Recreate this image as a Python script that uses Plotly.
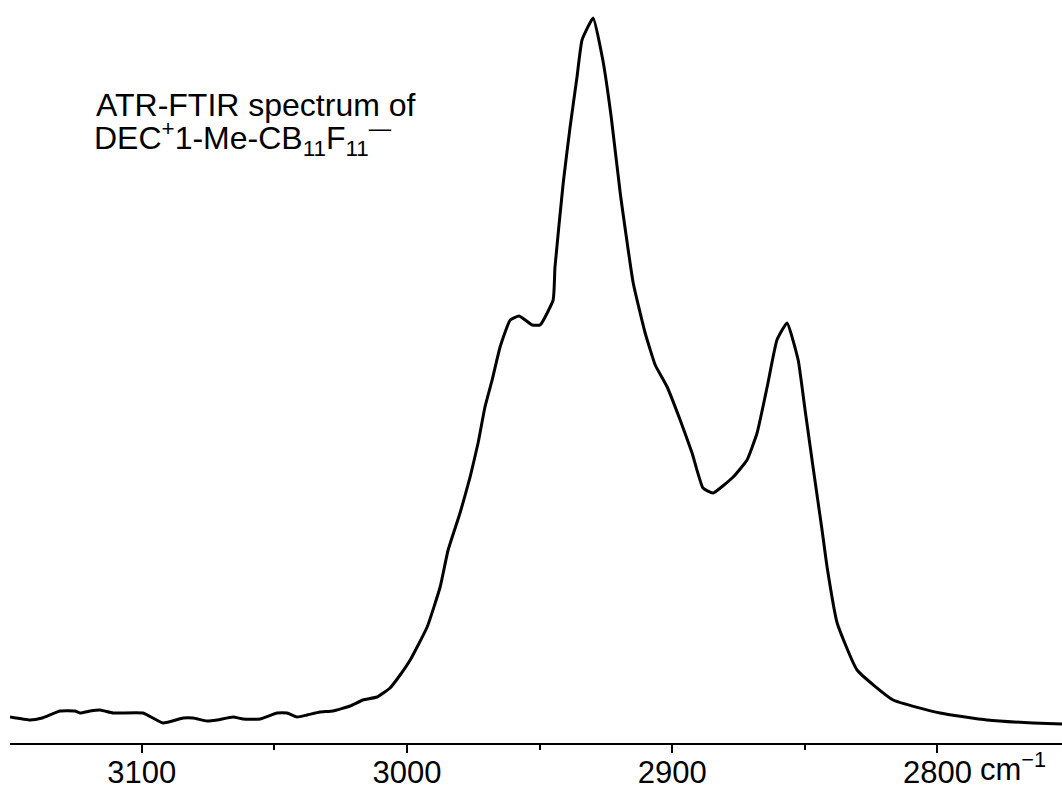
import plotly.graph_objects as go

# Wavenumber (cm^-1) and absorbance (arbitrary units)
wavenumber = [
    3149.7, 3142.1, 3137.6, 3130.8, 3125.2, 3123.3, 3119.5, 3115.7, 3110.8, 3099.5,
    3092.0, 3084.4, 3080.7, 3075.4, 3071.6, 3065.6, 3061.8, 3055.4, 3049.0, 3045.2,
    3041.4, 3037.7, 3032.8, 3027.9, 3021.5, 3016.6, 3011.3, 3006.4, 3002.6, 2998.8,
    2992.4, 2987.5, 2984.5, 2980.0, 2976.2, 2973.2, 2970.6, 2967.9, 2964.9, 2961.1,
    2957.7, 2952.8, 2949.8, 2944.9, 2944.2, 2941.1, 2938.5, 2935.9, 2934.0, 2929.8,
    2926.1, 2923.0, 2919.6, 2914.7, 2910.2, 2906.4, 2901.9, 2897.0, 2892.5, 2888.4,
    2884.6, 2877.0, 2871.8, 2868.0, 2864.2, 2860.5, 2856.7, 2852.5, 2849.9, 2846.9,
    2843.5, 2841.6, 2837.8, 2830.3, 2816.7, 2799.0, 2781.3, 2763.9, 2753.0,
]
absorbance = [
    0.026, 0.023, 0.025, 0.032, 0.032, 0.030, 0.032, 0.033, 0.030, 0.030,
    0.020, 0.025, 0.025, 0.022, 0.023, 0.026, 0.024, 0.024, 0.030, 0.030,
    0.026, 0.028, 0.031, 0.032, 0.037, 0.043, 0.046, 0.055, 0.068, 0.083,
    0.116, 0.156, 0.193, 0.230, 0.266, 0.300, 0.336, 0.363, 0.396, 0.423,
    0.427, 0.418, 0.418, 0.443, 0.476, 0.560, 0.616, 0.666, 0.703, 0.725,
    0.682, 0.626, 0.550, 0.460, 0.410, 0.378, 0.356, 0.323, 0.290, 0.255,
    0.250, 0.266, 0.283, 0.310, 0.356, 0.403, 0.420, 0.383, 0.333, 0.276,
    0.213, 0.176, 0.120, 0.073, 0.043, 0.030, 0.023, 0.020, 0.019,
]

tick_values = [3100, 3000, 2900, 2800]
tick_labels = ["3100", "3000", "2900", "2800"]
minor_tick_values = [3050, 2950, 2850]
title_line1 = "ATR-FTIR spectrum of"
title_line2 = "DEC<sup>+</sup>1-Me-CB<sub>11</sub>F<sub>11</sub><sup>\u2014</sup>"
unit_label = "cm<sup>\u22121</sup>"

FONT = "Arial, 'Liberation Sans', sans-serif"
W, H = 1062, 786
ML, MR, MT, MB = 10, 0, 10, 786 - 743
PW, PH = W - ML - MR, H - MT - MB
X_LEFT = 3149.7
X_RIGHT = X_LEFT - PW / 2.652


def px_x(x):
    return (x - ML) / PW


def px_y(y):
    return (H - MB - y) / PH


fig = go.Figure()
fig.add_trace(go.Scatter(
    x=wavenumber, y=absorbance, mode="lines",
    line=dict(color="black", width=3, shape="spline", smoothing=0.4),
    hoverinfo="skip", showlegend=False, cliponaxis=False,
))

fig.update_layout(
    width=W, height=H,
    margin=dict(l=ML, r=MR, t=MT, b=MB, autoexpand=False),
    paper_bgcolor="white", plot_bgcolor="white",
    font=dict(family=FONT, color="black", size=31),
    xaxis=dict(
        range=[X_LEFT, X_RIGHT],
        automargin=False,
        showgrid=False, zeroline=False,
        showline=True, linecolor="black", linewidth=2,
        ticks="outside", ticklen=8, tickwidth=2, tickcolor="black",
        tickvals=tick_values, ticktext=tick_labels,
        ticklabelstandoff=-7,
        tickfont=dict(family=FONT, size=31, color="black"),
        minor=dict(tickvals=minor_tick_values, ticks="outside", ticklen=5,
                   tickwidth=2, tickcolor="black", showgrid=False),
    ),
    yaxis=dict(range=[0, PH / 1000], visible=False, showgrid=False,
               zeroline=False, automargin=False),
    annotations=[
        dict(text=title_line1, xref="paper", yref="paper",
             x=px_x(94), y=px_y(105), xanchor="left", yanchor="middle",
             showarrow=False, font=dict(family=FONT, size=32, color="black")),
        dict(text=title_line2, xref="paper", yref="paper",
             x=px_x(92), y=px_y(139), xanchor="left", yanchor="middle",
             showarrow=False, font=dict(family=FONT, size=32, color="black")),
        dict(text=unit_label, xref="paper", yref="paper",
             x=px_x(978), y=px_y(767), xanchor="left", yanchor="middle",
             showarrow=False, font=dict(family=FONT, size=31, color="black")),
    ],
)

fig.write_html(
    "out.html",
    config={"displayModeBar": False, "staticPlot": True},
    default_width=f"{W}px",
    default_height=f"{H}px",
    post_script="document.body.style.margin='0';document.body.style.overflow='hidden';",
)
